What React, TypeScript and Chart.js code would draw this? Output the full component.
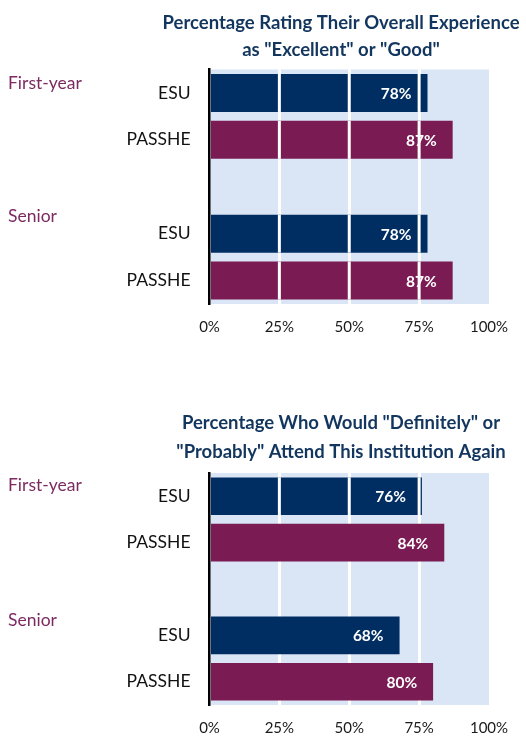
import React, { useEffect, useRef } from "react";
import { Chart, registerables } from "chart.js";
Chart.register(...registerables);

const GROUP_LABELS = ["First-year", "Senior"];
const INSTITUTIONS = ["ESU", "PASSHE"];
const EXPERIENCE_FIRST_YEAR = [78, 87];
const EXPERIENCE_SENIOR = [78, 87];
const ATTEND_FIRST_YEAR = [76, 84];
const ATTEND_SENIOR = [68, 80];
const X_TICKS = [0, 25, 50, 75, 100];
const TITLE_EXPERIENCE = ["Percentage Rating Their Overall Experience", 'as "Excellent" or "Good"'];
const TITLE_ATTEND = ['Percentage Who Would "Definitely" or', '"Probably" Attend This Institution Again'];
// bars across which the reference shows the white gridlines
const EXPERIENCE_GRID_OVER = [true, true, false, true, true];
const ATTEND_GRID_OVER = [true, false, false, false, false];

const NAVY = "#002E62";
const PURPLE = "#7A1B53";
const BG = "#DAE5F6";
const TITLE_COLOR = "#13365F";
const GROUP_COLOR = "#7D2A61";
const FONT = "Lato, 'Open Sans', sans-serif";

type Props = {
  title: string[];
  firstYear: number[];
  senior: number[];
  gridOver: boolean[];
  padTop: number;
  padBottom: number;
  titleY: number[];
  groupOffsets: number[];
};

function BarChart(p: Props) {
  const ref = useRef<HTMLCanvasElement | null>(null);
  useEffect(() => {
    if (!ref.current) return;
    const labels = [...INSTITUTIONS, "", ...INSTITUTIONS];
    const data = [...p.firstYear, null, ...p.senior];
    const colors = [NAVY, PURPLE, NAVY, NAVY, PURPLE];

    const deco = {
      id: "deco",
      beforeDraw(chart: any) {
        const { ctx, chartArea: a } = chart;
        ctx.save();
        ctx.fillStyle = BG;
        ctx.fillRect(a.left, a.top, a.right - a.left, a.bottom - a.top);
        ctx.restore();
      },
      afterDatasetsDraw(chart: any) {
        const { ctx } = chart;
        const meta = chart.getDatasetMeta(0);
        const xs = chart.scales.x;
        ctx.save();
        meta.data.forEach((bar: any, i: number) => {
          const v = data[i];
          if (v == null) return;
          ctx.fillStyle = "#FFFFFF";
          ctx.font = `bold 15.5px ${FONT}`;
          ctx.textAlign = "right";
          ctx.textBaseline = "middle";
          ctx.fillText(`${v}%`, bar.x - 16, bar.y + 1);
        });
        meta.data.forEach((bar: any, i: number) => {
          const v = data[i];
          if (v == null || !p.gridOver[i]) return;
          const h = bar.height;
          ctx.strokeStyle = "#FFFFFF";
          ctx.lineWidth = 3;
          [25, 50, 75].forEach((t) => {
            const x = xs.getPixelForValue(t);
            if (x >= bar.x) return;
            ctx.beginPath();
            ctx.moveTo(x, bar.y - h / 2);
            ctx.lineTo(x, bar.y + h / 2);
            ctx.stroke();
          });
        });
        ctx.restore();
      },
      afterDraw(chart: any) {
        const { ctx } = chart;
        const ys = chart.scales.y;
        ctx.save();
        ctx.fillStyle = TITLE_COLOR;
        ctx.font = `bold 18.5px ${FONT}`;
        ctx.textAlign = "center";
        ctx.textBaseline = "middle";
        p.title.forEach((line, i) => ctx.fillText(line, 341, p.titleY[i]));
        ctx.fillStyle = GROUP_COLOR;
        ctx.font = `17.5px ${FONT}`;
        ctx.textAlign = "left";
        GROUP_LABELS.forEach((g, i) => {
          const y = ys.getPixelForValue(i === 0 ? 0 : 3) + p.groupOffsets[i];
          ctx.fillText(g, 8, y);
        });
        ctx.restore();
      },
    };

    const chart = new Chart(ref.current, {
      type: "bar",
      data: {
        labels,
        datasets: [
          {
            data,
            backgroundColor: colors,
            barPercentage: 0.81,
            categoryPercentage: 1,
          },
        ],
      },
      options: {
        indexAxis: "y",
        responsive: false,
        animation: false,
        layout: { padding: { top: p.padTop, bottom: p.padBottom, left: 0, right: 37 } },
        plugins: { legend: { display: false }, tooltip: { enabled: false }, title: { display: false } },
        scales: {
          x: {
            min: 0,
            max: 100,
            afterBuildTicks: (s: any) => {
              s.ticks = X_TICKS.map((v) => ({ value: v }));
            },
            afterFit: (s: any) => {
              s.height = 30;
            },
            grid: {
              drawTicks: false,
              lineWidth: 3,
              color: (c: any) => (c.tick && [25, 50, 75].includes(c.tick.value) ? "#FFFFFF" : "rgba(0,0,0,0)"),
            },
            border: { display: false },
            ticks: {
              padding: 14,
              color: "#1a1a1a",
              font: { family: FONT, size: 15 },
              callback: (v: any) => `${v}%`,
            },
          },
          y: {
            afterFit: (s: any) => {
              s.width = 209.5;
            },
            grid: { display: false, drawTicks: false },
            border: { display: true, color: "#000000", width: 2.5 },
            ticks: {
              padding: 19,
              color: "#111111",
              font: { family: FONT, size: 17.5 },
            },
          },
        },
      },
      plugins: [deco],
    } as any);
    return () => chart.destroy();
  }, []);
  return <canvas ref={ref} width={526} height={369} style={{ display: "block", width: 526, height: 369 }} />;
}

export default function App() {
  return (
    <div style={{ position: "absolute", left: 0, top: 0, width: 526, height: 738, background: "#fff" }}>
      <BarChart
        title={TITLE_EXPERIENCE}
        firstYear={EXPERIENCE_FIRST_YEAR}
        senior={EXPERIENCE_SENIOR}
        gridOver={EXPERIENCE_GRID_OVER}
        padTop={69.5}
        padBottom={35}
        titleY={[23, 50]}
        groupOffsets={[-10, -17]}
      />
      <BarChart
        title={TITLE_ATTEND}
        firstYear={ATTEND_FIRST_YEAR}
        senior={ATTEND_SENIOR}
        gridOver={ATTEND_GRID_OVER}
        padTop={104}
        padBottom={3}
        titleY={[54.5, 83]}
        groupOffsets={[-10.5, -15]}
      />
    </div>
  );
}
